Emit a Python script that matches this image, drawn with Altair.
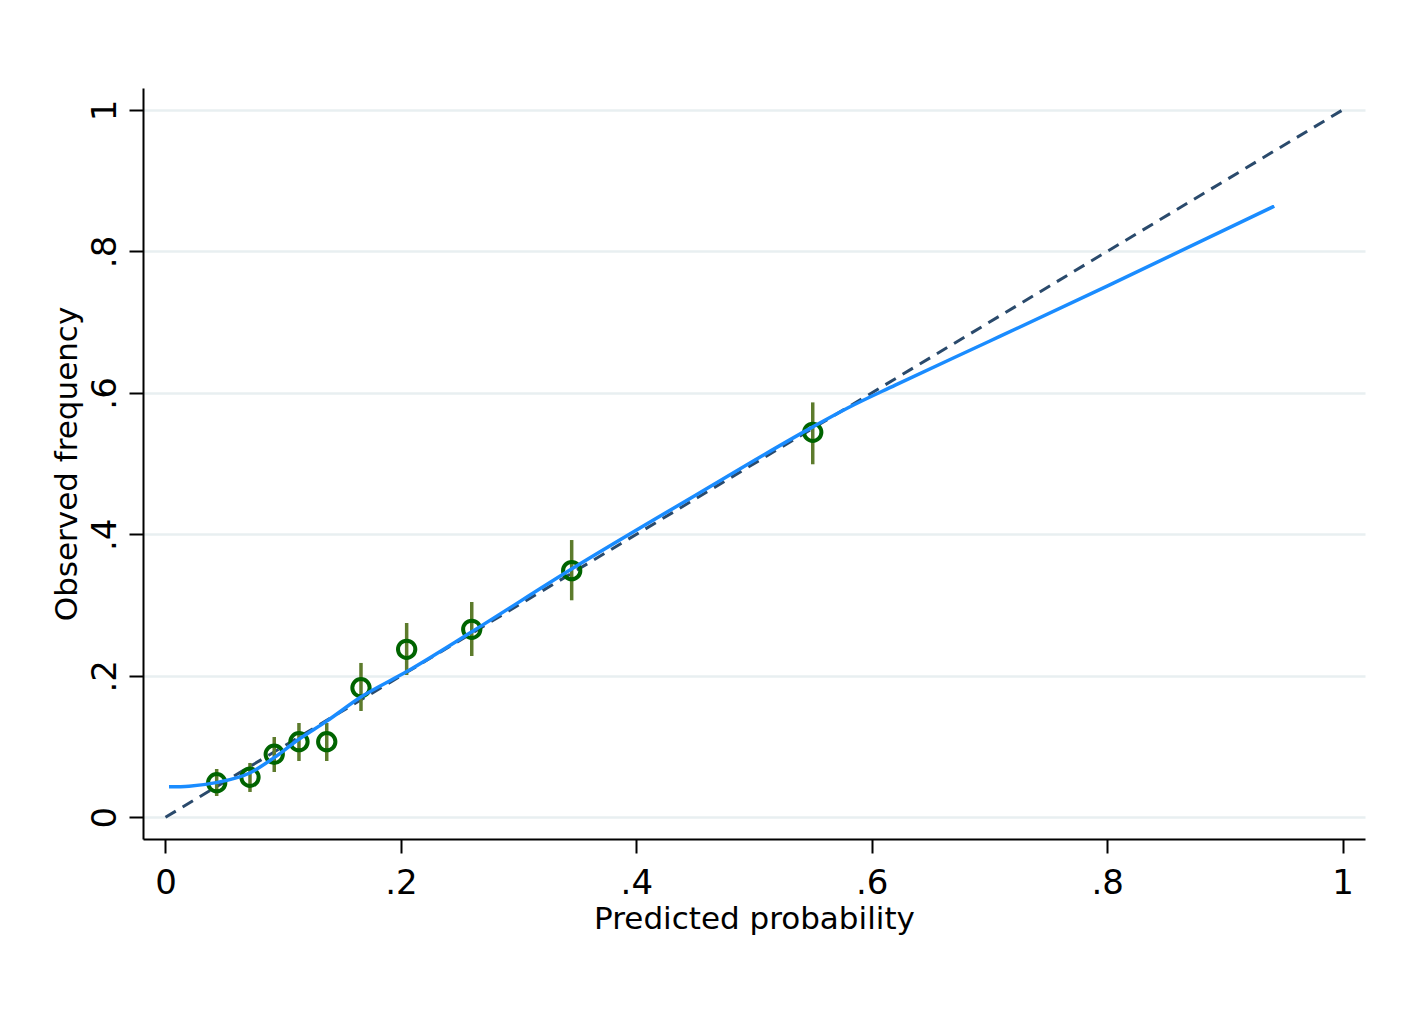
import altair as alt
import pandas as pd

# ---- data ----
pred = [0.0435, 0.0718, 0.0924, 0.1134, 0.1370, 0.1661, 0.2049, 0.2602, 0.3451, 0.5499]
obs = [0.0489, 0.0566, 0.0891, 0.1069, 0.1069, 0.1832, 0.2375, 0.2658, 0.3487, 0.5443]
ci_lo = [0.0301, 0.0358, 0.0640, 0.0796, 0.0796, 0.1503, 0.2012, 0.2280, 0.3068, 0.4991]
ci_hi = [0.0683, 0.0768, 0.1135, 0.1333, 0.1333, 0.2182, 0.2747, 0.3044, 0.3920, 0.5866]

smooth_x = [0.003, 0.02, 0.043, 0.072, 0.092, 0.113, 0.137, 0.166, 0.205, 0.26,
            0.345, 0.45, 0.55, 0.58, 0.62, 0.70, 0.80, 0.942]
smooth_y = [0.043, 0.044, 0.049, 0.063, 0.084, 0.110, 0.136, 0.170, 0.206, 0.262,
            0.351, 0.455, 0.552, 0.579, 0.611, 0.673, 0.751, 0.864]

ref_x = [0.0, 1.0]
ref_y = [0.0, 1.0]

tick_values = [0, 0.2, 0.4, 0.6, 0.8, 1]

pts = pd.DataFrame({"pred": pred, "obs": obs, "lo": ci_lo, "hi": ci_hi})
sm = pd.DataFrame({"pred": smooth_x, "obs": smooth_y})
ref = pd.DataFrame({"pred": ref_x, "obs": ref_y})

FONT = "DejaVu Sans"
label_expr = "datum.value == 0 ? '0' : (datum.value == 1 ? '1' : '.' + format(datum.value * 10, 'd'))"

xscale = alt.Scale(domain=[-0.0191, 1.0191], nice=False, zero=False)
yscale = alt.Scale(domain=[-0.0307, 1.0311], nice=False, zero=False)

xaxis = alt.Axis(
    values=tick_values, labelExpr=label_expr, title="Predicted probability",
    grid=False, domainColor="black", domainWidth=2,
    tickColor="black", tickWidth=2, tickSize=14,
    labelFont=FONT, labelFontSize=34, labelColor="black", labelPadding=40,
    labelBaseline="alphabetic", labelAngle=0, labelAlign="center",
    titleFont=FONT, titleFontSize=31, titleFontWeight="normal", titleColor="black",
    titleBaseline="alphabetic", titleY=89,
)
yaxis = alt.Axis(
    values=tick_values, labelExpr=label_expr, title="Observed frequency",
    grid=True, gridColor="#e8eff1", gridWidth=2.5,
    domainColor="black", domainWidth=2,
    tickColor="black", tickWidth=2, tickSize=14,
    labelFont=FONT, labelFontSize=34, labelColor="black", labelPadding=14,
    labelAngle=270, labelAlign="center", labelBaseline="alphabetic",
    titleFont=FONT, titleFontSize=31, titleFontWeight="normal", titleColor="black",
    titleAngle=270, titleBaseline="alphabetic", titleX=-67,
)

x_enc = alt.X("pred:Q", scale=xscale, axis=xaxis)

bars = alt.Chart(pts).mark_rule(color="#5d7b2c", strokeWidth=3.5).encode(
    x=x_enc,
    y=alt.Y("lo:Q", scale=yscale, axis=yaxis),
    y2="hi:Q",
)

circles = alt.Chart(pts).mark_point(
    shape="circle", filled=False, size=300, strokeWidth=4, color="#006400", opacity=1
).encode(
    x=x_enc,
    y=alt.Y("obs:Q", scale=yscale, axis=yaxis),
)

diag = alt.Chart(ref).mark_line(color="#2a4a6c", strokeWidth=3, strokeDash=[12, 8]).encode(
    x=x_enc,
    y=alt.Y("obs:Q", scale=yscale, axis=yaxis),
)

smooth = alt.Chart(sm).mark_line(color="#1a8cff", strokeWidth=3.5, interpolate="monotone").encode(
    x=x_enc,
    y=alt.Y("obs:Q", scale=yscale, axis=yaxis),
)

chart = alt.layer(diag, bars, circles, smooth).properties(
    width=1222,
    height=751,
    autosize="none",
    padding={"left": 135, "top": 80, "right": 30, "bottom": 150},
    background="white",
).configure_view(stroke=None)

chart.save("out.html", embed_options={"renderer": "svg", "actions": False})
